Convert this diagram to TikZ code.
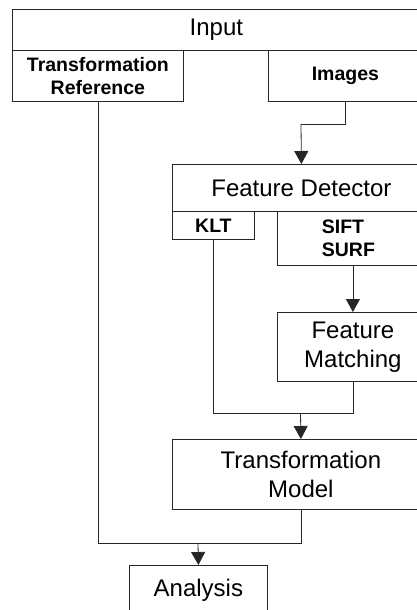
\documentclass[tikz,border=0pt]{standalone}
\usepackage{fontspec}
\setmainfont{Liberation Sans}
\usetikzlibrary{arrows.meta}
\begin{document}
\begin{tikzpicture}[x=1pt,y=-1pt,
  box/.style={draw=black!85, line width=0.8pt, inner sep=0pt, anchor=north west},
  big/.style={font=\fontsize{24}{29}\selectfont, align=center},
  bold/.style={font=\fontsize{19.5}{22.5}\selectfont\bfseries, align=center},
  line/.style={draw=black!85, line width=0.8pt},
  arr/.style={line, -{Triangle[width=14pt,length=13pt]}}]
\useasboundingbox (0,0) rectangle (417,610);
\clip (0,0) rectangle (417,610);
\node[box,big,minimum width=408pt,minimum height=41pt] (input) at (12,9) {Input};
\node[box,bold,minimum width=171pt,minimum height=51pt] (tr) at (12,50) {Transformation\\Reference};
\node[box,bold,minimum width=154pt,minimum height=51pt] (img) at (268,50) {Images};
\node[box,big,minimum width=258pt,minimum height=47pt] (fd) at (172,164) {Feature Detector};
\node[box,bold,minimum width=82pt,minimum height=28pt] (klt) at (172,211) {KLT};
\node[box,minimum width=142pt,minimum height=54pt] (sift) at (277,211) {};
\node[bold,align=left] at (sift.center) {SIFT\\SURF};
\node[box,big,minimum width=151pt,minimum height=69pt] (fm) at (277,312) {Feature\\Matching};
\node[box,big,minimum width=257pt,minimum height=70pt] (tm) at (172,439) {Transformation\\Model};
\node[box,big,minimum width=138pt,minimum height=50pt] (an) at (129,565) {Analysis};
\coordinate (c1) at (301,124);
\coordinate (c3) at (300.5,413);
\coordinate (c2) at (198,543);
\draw[line] (img.south) |- (c1);
\draw[arr] (c1) -- (fd.north);
\draw[arr] (sift.south -| fm.north) -- (fm.north);
\draw[line] (klt.south) |- (fm.south |- c3) -- (fm.south);
\draw[arr] (c3) -- (tm.north);
\draw[line] (tr.south) |- (tm.south |- c2) -- (tm.south);
\draw[arr] (c2) -- (an.north);
\end{tikzpicture}
\end{document}
